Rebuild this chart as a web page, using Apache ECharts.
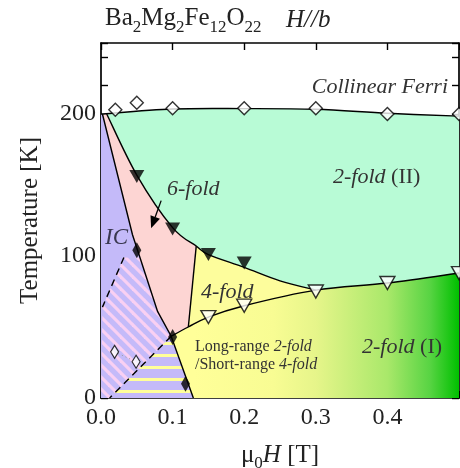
<!DOCTYPE html>
<html><head><meta charset="utf-8">
<script src="https://cdn.jsdelivr.net/npm/echarts@6/dist/echarts.min.js"></script>
<style>html,body{margin:0;padding:0;background:#fff}#c{width:460px;height:468px}</style>
</head><body><div id="c"></div>
<script>
const FONT = "Liberation Serif";
// ---- data ----
const xTickValues = [0, 0.1, 0.2, 0.3, 0.4];
const yTickLabels = [0, 100, 200];
const ferriBoundary = [[0,200],[0.1,203.5],[0.2,203.8],[0.3,203.3],[0.4,200.5],[0.5,198.5]];
const ferriPoints = [[0.02,203],[0.05,208],[0.1,204],[0.2,204],[0.3,204],[0.4,200],[0.5,200]];
const sixFoldUpper = [[0.008,200],[0.05,157],[0.1,120],[0.133,107],[0.15,101],[0.2,92],[0.25,82.5],[0.3,76]];
const lowerBoundary = [[0.098,43.5],[0.122,50],[0.15,57],[0.2,65],[0.3,76],[0.4,81],[0.5,88]];
const icBoundary = [[0.002,200],[0.044,115],[0.0544,99],[0.079,61],[0.098,43.5],[0.129,0]];
const fourFoldEdge = [[0.133,107],[0.122,50]];
const dashedA = [[0.032,99],[0.002,64]];
const dashedB = [[0.098,43.5],[0.012,0]];
const filledTriangles = [[0.05,156],[0.1,119],[0.15,101],[0.2,95]];
const openTriangles = [[0.15,57],[0.2,65],[0.3,75],[0.4,81],[0.5,88]];
const filledDiamonds = [[0.05,104],[0.1,43],[0.118,10]];
const smallDiamonds = [[0.019,32.5],[0.049,25.5]];
const arrow6 = [[0.084,139],[0.07,119.5]];
const frameCorners = [[0,0],[0.5,0],[0,200]];

// ---- helpers ----
function bezSegs(px){
  const s=[];
  for(let i=0;i<px.length-1;i++){
    const p0=px[i-1]||px[i], p1=px[i], p2=px[i+1], p3=px[i+2]||px[i+1];
    s.push([p1,[p1[0]+(p2[0]-p0[0])/6,p1[1]+(p2[1]-p0[1])/6],[p2[0]-(p3[0]-p1[0])/6,p2[1]-(p3[1]-p1[1])/6],p2]);
  }
  return s;
}
function P(p){return p[0].toFixed(2)+' '+p[1].toFixed(2);}
function trace(cmds, px, smooth, from, to){
  const segs = bezSegs(px);
  cmds.push((cmds.length? 'L':'M')+P(px[from]));
  if(from<to){
    for(let i=from;i<to;i++){const g=segs[i]; cmds.push(smooth? 'C'+P(g[1])+' '+P(g[2])+' '+P(g[3]) : 'L'+P(g[3]));}
  } else {
    for(let i=from-1;i>=to;i--){const g=segs[i]; cmds.push(smooth? 'C'+P(g[2])+' '+P(g[1])+' '+P(g[0]) : 'L'+P(g[0]));}
  }
}
function makeStripeTile(){
  const s=12, c=document.createElement('canvas'); c.width=s; c.height=s;
  const g=c.getContext('2d'); g.strokeStyle='#f9d0f3'; g.lineWidth=3.2;
  for(const k of [-s,0,s]){g.beginPath(); g.moveTo(k-1,-1); g.lineTo(k+s+1,s+1); g.stroke();}
  return c;
}
function makeBandTile(){
  const c=document.createElement('canvas'); c.width=8; c.height=12;
  const g=c.getContext('2d'); g.fillStyle='#ffff99'; g.fillRect(0,6,8,3);
  return c;
}
const stripeTile = makeStripeTile();
const bandTile = makeBandTile();

function renderRegions(params, api){
  const C = arr => arr.map(p => api.coord(p));
  const fer=C(ferriBoundary), up=C(sixFoldUpper), lo=C(lowerBoundary), ic=C(icBoundary);
  const ed=C(fourFoldEdge), dA=C(dashedA), dB=C(dashedB), corner=C(frameCorners);
  const x0=corner[0], x5=corner[1];
  const kids=[];
  const poly=(cmds, style)=>kids.push({type:'path', shape:{pathData:cmds.join(' ')+' Z'}, style});
  const line=(cmds, style)=>kids.push({type:'path', shape:{pathData:cmds.join(' ')}, style:Object.assign({fill:null, stroke:'#000', lineWidth:1.4}, style)});
  let c;
  c=[]; trace(c,fer,true,0,fer.length-1); c.push('L'+P(x5),'L'+P(x0)); poly(c,{fill:'#b8fbd6'});
  const gx0=api.coord([0.13,0])[0], gx1=x5[0];
  const grad=new echarts.graphic.LinearGradient(gx0,0,gx1,0,[
    {offset:0,color:'#ffff99'},{offset:0.3,color:'#f8fc93'},{offset:0.46,color:'#e6f58a'},
    {offset:0.73,color:'#a9e86a'},{offset:0.89,color:'#58d443'},{offset:1,color:'#00c000'}],true);
  c=[]; trace(c,lo,true,0,lo.length-1); c.push('L'+P(x5)); trace(c,ic,false,ic.length-1,ic.length-2); poly(c,{fill:grad});
  c=[]; trace(c,up,true,3,up.length-1); trace(c,lo,true,4,1); poly(c,{fill:'#fdfd9c'});
  c=[]; trace(c,ic,false,0,4); trace(c,lo,true,0,1); trace(c,ed,false,1,0); trace(c,up,true,3,0); poly(c,{fill:'#fdd5d3'});
  c=[]; c.push('M'+P([x0[0],ic[0][1]])); trace(c,ic,false,0,ic.length-1); c.push('L'+P(x0)); poly(c,{fill:'#c4baf9'});
  c=[]; trace(c,dA,false,0,0); trace(c,ic,false,2,4); trace(c,dB,false,0,1); c.push('L'+P(x0)); trace(c,dA,false,1,1);
  poly(c,{fill:{image:stripeTile, repeat:'repeat'}});
  c=[]; trace(c,ic,false,4,5); trace(c,dB,false,1,0); poly(c,{fill:{image:bandTile, repeat:'repeat'}});
  c=[]; trace(c,fer,true,0,fer.length-1); line(c,{});
  c=[]; trace(c,up,true,0,up.length-1); line(c,{});
  c=[]; trace(c,lo,true,0,lo.length-1); line(c,{});
  c=[]; trace(c,ic,false,0,ic.length-1); line(c,{});
  c=[]; trace(c,ed,false,0,1); line(c,{});
  c=[]; trace(c,dA,false,0,1); line(c,{lineDash:[7,5]});
  c=[]; trace(c,dB,false,0,1); line(c,{lineDash:[7,5]});
  const sd=C(smallDiamonds); c=[]; trace(c,sd,false,0,1); line(c,{stroke:'#999',lineWidth:1,lineDash:[1,3]});
  const a=C(arrow6); const dx=a[1][0]-a[0][0], dy=a[1][1]-a[0][1], L=Math.hypot(dx,dy), ux=dx/L, uy=dy/L;
  const hl=12, hw=5, bx=a[1][0]-ux*hl, by=a[1][1]-uy*hl;
  kids.push({type:'line', shape:{x1:a[0][0],y1:a[0][1],x2:bx,y2:by}, style:{stroke:'#000',lineWidth:1.3}});
  kids.push({type:'polygon', shape:{points:[a[1],[bx-uy*hw,by+ux*hw],[bx+uy*hw,by-ux*hw]]}, style:{fill:'#000'}});
  return {type:'group', children:kids};
}

const axisCommon = {
  axisLine:{show:true,onZero:false,lineStyle:{color:'#000',width:1.7}},
  axisTick:{show:true,inside:true,length:7,lineStyle:{color:'#000',width:1.4}},
  splitLine:{show:false}
};
const labelStyle = {fontFamily:FONT,fontSize:24,color:'#222'};
function T(x,y,text,opt){
  return {type:'text',x:x,y:y,z:100,zlevel:0,style:Object.assign({text:text,fontFamily:FONT,fontSize:22,fill:'#333',
    textVerticalAlign:'middle',verticalAlign:'middle'},opt||{})};
}
function richI(size,fill){return {i:{fontFamily:FONT,fontSize:size,fontStyle:'italic',fill:fill||'#333'},n:{fontFamily:FONT,fontSize:size,fill:fill||'#333'}};}
const chart = echarts.init(document.getElementById('c'),null,{renderer:'canvas'});
chart.setOption({
  animation:false,
  backgroundColor:'#fff',
  grid:{left:101,right:1,top:43,bottom:70,outerBoundsMode:'none',containLabel:false},
  xAxis:[
    Object.assign({type:'value',min:0,max:0.5,interval:0.1,position:'bottom',
      axisLabel:Object.assign({margin:8,formatter:v=>{const r=Math.round(v*10)/10;return xTickValues.indexOf(r)>=0?r.toFixed(1):'';}},labelStyle),
      name:'{n|μ}{s|0}{i|H}{n| [T]}',nameLocation:'middle',nameGap:42,
      nameTextStyle:{rich:{n:{fontFamily:FONT,fontSize:25,color:'#222',lineHeight:30},s:{fontFamily:FONT,fontSize:17,color:'#222',lineHeight:17,padding:[18,0,0,0]},i:{fontFamily:FONT,fontSize:25,fontStyle:'italic',color:'#222',lineHeight:30}}}
    },axisCommon),
    Object.assign({type:'value',min:0,max:0.5,interval:0.1,position:'top',axisLabel:{show:false}},axisCommon)
  ],
  yAxis:[
    Object.assign({type:'value',min:0,max:250,interval:20,position:'left',
      axisLabel:Object.assign({margin:5,formatter:v=>yTickLabels.indexOf(v)>=0?String(v):''},labelStyle),
      name:'Temperature [K]',nameLocation:'middle',nameGap:58,nameRotate:90,
      nameTextStyle:{fontFamily:FONT,fontSize:25,color:'#222'}
    },axisCommon),
    Object.assign({type:'value',min:0,max:250,interval:20,position:'right',axisLabel:{show:false}},axisCommon)
  ],
  series:[
    {type:'custom',renderItem:renderRegions,data:[[0,0]],silent:true,z:1,clip:true},
    {type:'scatter',data:ferriPoints,symbol:'diamond',symbolSize:[13,13],clip:false,z:5,
      itemStyle:{color:'#fff',borderColor:'#000',borderWidth:1.4}},
    {type:'scatter',data:filledTriangles,symbol:'triangle',symbolRotate:180,symbolSize:[15,13],clip:false,z:5,
      itemStyle:{color:'#000'}},
    {type:'scatter',data:openTriangles,symbol:'triangle',symbolRotate:180,symbolSize:[15,13],clip:false,z:5,
      itemStyle:{color:'#fff',borderColor:'#000',borderWidth:1.4}},
    {type:'scatter',data:filledDiamonds,symbol:'diamond',symbolSize:[9,16],clip:false,z:5,
      itemStyle:{color:'#000'}},
    {type:'scatter',data:smallDiamonds,symbol:'diamond',symbolSize:[8,13],clip:false,z:5,
      itemStyle:{color:'#fff',borderColor:'#000',borderWidth:1.2}}
  ],
  graphic:{elements:[
    {type:'text',x:105,y:3,z:100,style:{text:'{n|Ba}{s|2}{n|Mg}{s|2}{n|Fe}{s|12}{n|O}{s|22}',textVerticalAlign:'top',verticalAlign:'top',
      rich:{n:{fontFamily:FONT,fontSize:25,fill:'#222',lineHeight:30},s:{fontFamily:FONT,fontSize:17,fill:'#222',lineHeight:17,padding:[20,0,0,0]}}}},
    T(286,20,'H//b',{fontSize:25,fontStyle:'italic',fill:'#222'}),
    T(448,87,'Collinear Ferri',{fontStyle:'italic',textAlign:'right',align:'right'}),
    T(333,177,'{i|2-fold} {n|(II)}',{rich:richI(22)}),
    T(167,189,'6-fold',{fontStyle:'italic'}),
    T(105,238,'IC',{fontStyle:'italic',fontSize:23,fill:'#3a3850'}),
    T(201,292,'4-fold',{fontStyle:'italic'}),
    T(195,347,'{n|Long-range }{i|2-fold}',{rich:richI(16)}),
    T(195,365,'{n|/Short-range }{i|4-fold}',{rich:richI(16)}),
    T(362,347,'{i|2-fold} {n|(I)}',{rich:richI(22)})
  ]}
});
</script></body></html>
